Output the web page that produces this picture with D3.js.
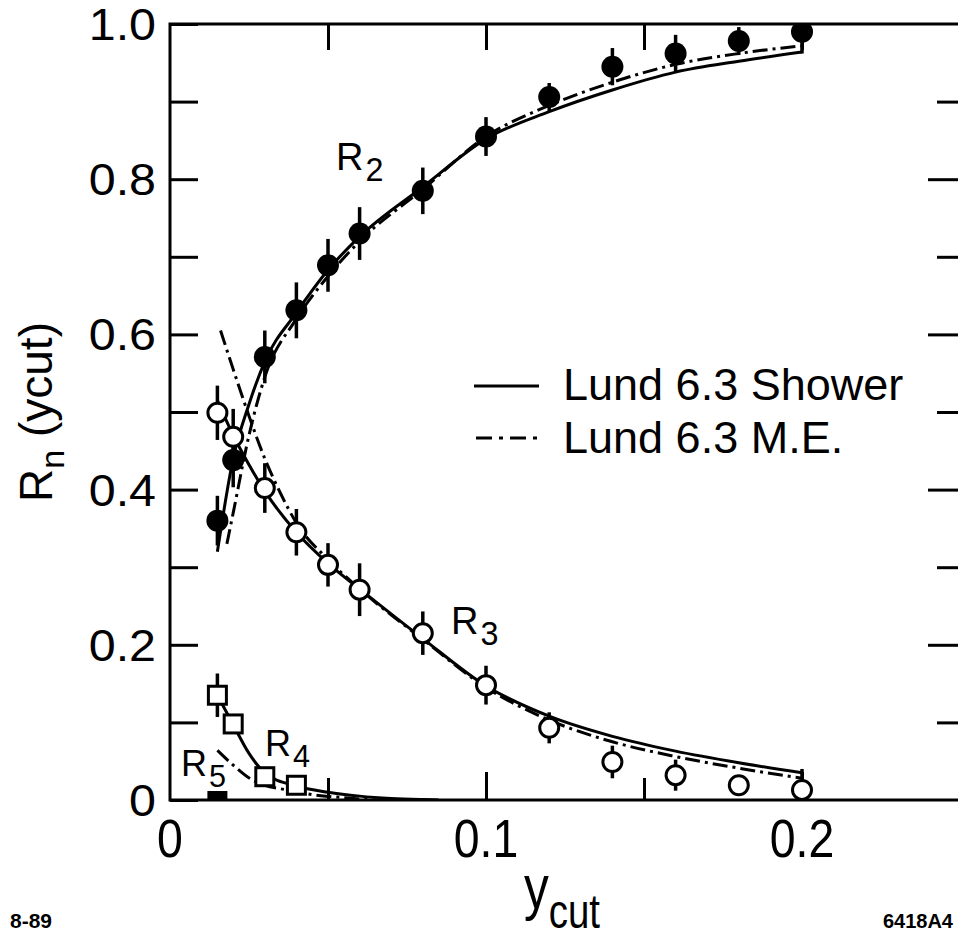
<!DOCTYPE html>
<html>
<head>
<meta charset="utf-8">
<script src="https://cdn.jsdelivr.net/npm/d3@7"></script>
<style>
  html, body { margin: 0; padding: 0; background: #fff; }
  svg { display: block; }
  text { font-family: "Liberation Sans", Arial, Helvetica, sans-serif; fill: #000; }
</style>
</head>
<body>
<svg id="chart" width="958" height="939"></svg>
<script>
// ---- data ----
const xPts   = [0.015, 0.02, 0.03, 0.04, 0.05, 0.06, 0.08, 0.10, 0.12, 0.14, 0.16, 0.18, 0.20];
const r2     = [0.360, 0.438, 0.571, 0.631, 0.689, 0.730, 0.785, 0.855, 0.906, 0.945, 0.962, 0.978, 0.990];
const r2Err  = [0.032, 0.035, 0.034, 0.036, 0.034, 0.034, 0.030, 0.025, 0.018, 0.024, 0.024, 0.018, 0.028];
const r3     = [0.499, 0.468, 0.402, 0.345, 0.303, 0.271, 0.215, 0.148, 0.093, 0.049, 0.032, 0.019, 0.013];
const r3Err  = [0.035, 0.036, 0.032, 0.030, 0.028, 0.034, 0.028, 0.025, 0.020, 0.021, 0.020, 0.010, 0.027];
const r4X    = [0.015, 0.02, 0.03, 0.04];
const r4     = [0.135, 0.098, 0.030, 0.019];
const r4Err  = [0.028, 0.012, 0.010, 0.010];
const r5X    = [0.015];
const r5     = [0.0];

// Lund 6.3 Shower (solid)
const showerX   = [0.015, 0.02, 0.025, 0.03, 0.04, 0.05, 0.06, 0.08, 0.10, 0.12, 0.14, 0.16, 0.18, 0.20];
const showerR2  = [0.320, 0.440, 0.510, 0.565, 0.628, 0.683, 0.726, 0.790, 0.852, 0.887, 0.915, 0.938, 0.952, 0.964];
const showerR3  = [0.515, 0.470, 0.432, 0.398, 0.345, 0.305, 0.272, 0.208, 0.147, 0.108, 0.082, 0.063, 0.048, 0.035];
const showerR4X = [0.015, 0.02, 0.025, 0.03, 0.04, 0.05, 0.06, 0.07, 0.08, 0.085];
const showerR4  = [0.135, 0.097, 0.060, 0.035, 0.018, 0.010, 0.005, 0.002, 0.0005, 0.0];

// Lund 6.3 M.E. (dash-dot)
const meR2X = [0.018, 0.02, 0.025, 0.03, 0.04, 0.05, 0.06, 0.08, 0.10, 0.12, 0.14, 0.16, 0.18, 0.20];
const meR2  = [0.330, 0.370, 0.470, 0.545, 0.620, 0.675, 0.720, 0.787, 0.855, 0.895, 0.925, 0.948, 0.962, 0.972];
const meR3X = [0.016, 0.02, 0.025, 0.03, 0.035, 0.04, 0.05, 0.06, 0.08, 0.10, 0.12, 0.14, 0.16, 0.18, 0.20];
const meR3  = [0.605, 0.555, 0.495, 0.440, 0.395, 0.357, 0.310, 0.272, 0.207, 0.145, 0.103, 0.075, 0.056, 0.041, 0.028];
const meR4X = [0.015, 0.02, 0.026, 0.03, 0.037, 0.045, 0.055, 0.065];
const meR4  = [0.064, 0.045, 0.026, 0.019, 0.013, 0.007, 0.003, 0.0];

const yTickVals  = [0, 0.1, 0.2, 0.3, 0.4, 0.5, 0.6, 0.7, 0.8, 0.9, 1.0];
const yTickLabels = {0: "0", 0.2: "0.2", 0.4: "0.4", 0.6: "0.6", 0.8: "0.8", 1: "1.0"};
const xTickVals  = [0.05, 0.1, 0.15, 0.2];
const xLabelVals = [0, 0.1, 0.2];
const xTickLabels = ["0", "0.1", "0.2"];

const legendNames = ["Lund 6.3 Shower", "Lund 6.3 M.E."];

// ---- layout ----
const L = 170, R = 960, T = 24, B = 800;
const x = d3.scaleLinear().domain([0, 0.25]).range([L, R]);
const y = d3.scaleLinear().domain([0, 1]).range([B, T]);
const svg = d3.select("#chart");
const DASH = "15,5,3,5";

svg.append("defs").append("clipPath").attr("id", "plotclip")
  .append("rect").attr("x", L).attr("y", T).attr("width", R - L).attr("height", B - T);

// ---- axes (inward ticks) ----
const isMajorY = d => Math.abs(Math.round(d * 10) % 2) === 0;
const axLeft = svg.append("g").attr("transform", `translate(${L},0)`)
  .call(d3.axisLeft(y).tickValues(yTickVals).tickSizeInner(-28).tickSizeOuter(0).tickFormat(""));
const axRight = svg.append("g").attr("transform", `translate(${R},0)`)
  .call(d3.axisRight(y).tickValues(yTickVals.filter(d => d > 0 && d < 1)).tickSizeInner(-24).tickSizeOuter(0).tickFormat(""));
axRight.selectAll(".tick line").attr("x2", d => isMajorY(d) ? -32 : -23);
const axTop = svg.append("g").attr("transform", `translate(0,${T})`)
  .call(d3.axisTop(x).tickValues(xTickVals).tickSizeInner(-26).tickSizeOuter(0).tickFormat(""));
const axBottom = svg.append("g").attr("transform", `translate(0,${B})`)
  .call(d3.axisBottom(x).tickValues(xTickVals).tickSizeInner(-24).tickSizeOuter(0).tickFormat(""));
axBottom.selectAll(".tick line").attr("y2", d => (Math.abs(d - 0.1) < 1e-6 || Math.abs(d - 0.2) < 1e-6) ? -28 : -22);
[axLeft, axRight, axTop, axBottom].forEach(g => {
  g.select(".domain").remove();
  g.selectAll(".tick line").attr("stroke", "#000").attr("stroke-width", 3);
});

// frame
svg.append("rect").attr("x", L).attr("y", T).attr("width", R - L).attr("height", B - T)
  .attr("fill", "none").attr("stroke", "#000").attr("stroke-width", 3);

// tick labels
svg.append("g").selectAll("text").data(yTickVals.filter(d => yTickLabels[d] !== undefined)).join("text")
  .attr("transform", d => `translate(156,${y(d) + 16}) scale(1.1,1)`)
  .attr("text-anchor", "end").attr("font-size", 44)
  .text(d => yTickLabels[d]);

svg.append("g").selectAll("text").data(xLabelVals).join("text")
  .attr("transform", d => `translate(${x(d)},857) scale(0.86,1)`)
  .attr("text-anchor", "middle").attr("font-size", 54)
  .text((d, i) => xTickLabels[i]);

// axis titles
const yt = svg.append("text").attr("transform", "translate(52,412) rotate(-90)")
  .attr("text-anchor", "middle").attr("font-size", 46);
yt.append("tspan").text("R");
yt.append("tspan").attr("font-size", 34).attr("dy", 12).text("n");
yt.append("tspan").attr("dy", -12).text(" (ycut)");

const xt = svg.append("text").attr("transform", "translate(562,908) scale(0.8,1)")
  .attr("text-anchor", "middle").attr("font-size", 62);
xt.append("tspan").text("y");
xt.append("tspan").attr("font-size", 48).attr("dy", 20).text("cut");

svg.append("text").attr("x", 10).attr("y", 928).attr("font-size", 21).attr("font-weight", "bold").text("8-89");
svg.append("text").attr("x", 953).attr("y", 928).attr("text-anchor", "end").attr("font-size", 20).attr("font-weight", "bold").text("6418A4");

// ---- curves ----
const plot = svg.append("g").attr("clip-path", "url(#plotclip)");
const line = d3.line().x(d => x(d[0])).y(d => y(d[1])).curve(d3.curveMonotoneX);
const zip = (xs, ys) => xs.map((v, i) => [v, ys[i]]);
[[showerX, showerR2], [showerX, showerR3], [showerR4X, showerR4]].forEach(([xs, ys]) => {
  plot.append("path").attr("d", line(zip(xs, ys))).attr("fill", "none")
    .attr("stroke", "#000").attr("stroke-width", 3);
});
[[meR2X, meR2], [meR3X, meR3], [meR4X, meR4]].forEach(([xs, ys]) => {
  plot.append("path").attr("d", line(zip(xs, ys))).attr("fill", "none")
    .attr("stroke", "#000").attr("stroke-width", 3).attr("stroke-dasharray", DASH);
});

// ---- error bars ----
function errBars(xs, ys, es) {
  plot.append("g").selectAll("line").data(xs.map((v, i) => [v, ys[i], es[i]])).join("line")
    .attr("x1", d => x(d[0])).attr("x2", d => x(d[0]))
    .attr("y1", d => y(d[1] - d[2])).attr("y2", d => y(d[1] + d[2]))
    .attr("stroke", "#000").attr("stroke-width", 3.5);
}
errBars(xPts, r2, r2Err);
errBars(xPts, r3, r3Err);
errBars(r4X, r4, r4Err);

// ---- markers ----
plot.append("g").selectAll("circle").data(zip(xPts, r2)).join("circle")
  .attr("cx", d => x(d[0])).attr("cy", d => y(d[1])).attr("r", 11).attr("fill", "#000");
plot.append("g").selectAll("circle").data(zip(xPts, r3)).join("circle")
  .attr("cx", d => x(d[0])).attr("cy", d => y(d[1])).attr("r", 9.5)
  .attr("fill", "#fff").attr("stroke", "#000").attr("stroke-width", 3);
plot.append("g").selectAll("rect").data(zip(r4X, r4)).join("rect")
  .attr("x", d => x(d[0]) - 9).attr("y", d => y(d[1]) - 9).attr("width", 18).attr("height", 18)
  .attr("fill", "#fff").attr("stroke", "#000").attr("stroke-width", 3);
plot.append("g").selectAll("rect").data(zip(r5X, r5)).join("rect")
  .attr("x", d => x(d[0]) - 10).attr("y", d => y(d[1]) - 9).attr("width", 20).attr("height", 18)
  .attr("fill", "#000");

// ---- series labels ----
function rLabel(px, py, sub, fs) {
  const t = svg.append("text").attr("x", px).attr("y", py).attr("font-size", fs);
  t.append("tspan").text("R");
  t.append("tspan").attr("font-size", fs * 0.85).attr("dy", fs * 0.3).attr("dx", 2).text(sub);
}
rLabel(336, 170, "2", 38);
rLabel(451, 634, "3", 38);
rLabel(265, 756, "4", 36);
rLabel(181, 776, "5", 36);

// ---- legend ----
const lg = svg.append("g");
lg.append("line").attr("x1", 474).attr("x2", 539).attr("y1", 386).attr("y2", 386)
  .attr("stroke", "#000").attr("stroke-width", 3);
lg.append("line").attr("x1", 476).attr("x2", 539).attr("y1", 438).attr("y2", 438)
  .attr("stroke", "#000").attr("stroke-width", 3).attr("stroke-dasharray", "16,7,4,7");
lg.append("text").attr("x", 563).attr("y", 400).attr("font-size", 45).text(legendNames[0]);
lg.append("text").attr("x", 563).attr("y", 453).attr("font-size", 45).text(legendNames[1]);
</script>
</body>
</html>
